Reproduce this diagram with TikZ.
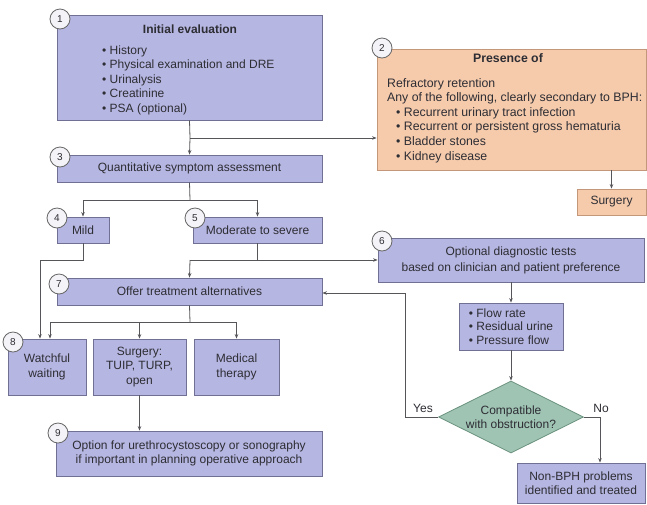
\documentclass[tikz,border=0pt]{standalone}
\usepackage{fontspec}
\setmainfont{Liberation Sans}
\usetikzlibrary{shapes.geometric,arrows.meta}
\definecolor{boxfill}{RGB}{182,182,226}
\definecolor{boxdraw}{RGB}{112,112,148}
\definecolor{orfill}{RGB}{246,203,172}
\definecolor{ordraw}{RGB}{196,150,122}
\definecolor{diafill}{RGB}{160,196,180}
\definecolor{diadraw}{RGB}{105,145,125}
\definecolor{txt}{RGB}{45,45,52}
\definecolor{lncol}{RGB}{85,85,90}
\definecolor{numfill}{RGB}{244,244,248}
\newcommand\fsz{\fontsize{12}{14.5}\selectfont}
\begin{document}
\begin{tikzpicture}[x=1pt,y=-1pt,
  bbox/.style={draw=boxdraw, fill=boxfill, line width=0.8pt, inner sep=0pt, text=txt, font=\fsz, align=center},
  obox/.style={bbox, draw=ordraw, fill=orfill},
  txtnode/.style={inner sep=0pt, text=txt, font=\fsz},
  num/.style={circle, draw=gray!80!black, fill=numfill, line width=0.8pt, minimum size=20pt, inner sep=0pt, text=txt, font=\fontsize{10}{12}\selectfont},
  conn/.style={draw=lncol, line width=0.8pt},
  arr/.style={conn, -{Stealth[length=4.5pt,width=3.5pt]}},
  dia/.style={diamond, draw=diadraw, fill=diafill, line width=0.8pt, inner sep=0pt, aspect=2, minimum width=145pt, minimum height=72pt, text=txt, font=\fsz, align=center}
]
\useasboundingbox[fill=white] (0,0) rectangle (647,504);

% boxes
\node[bbox, minimum width=265pt, minimum height=105pt] (b1) at (189.5,67.5) {};
\node[txtnode, font=\fsz\bfseries] (b1t) at (190,29) {Initial evaluation};
\node[txtnode, align=left, anchor=north west] (b1l) at (102,45.5) {• History\\• Physical examination and DRE\\• Urinalysis\\• Creatinine\\• PSA (optional)};

\node[obox, minimum width=269pt, minimum height=121pt] (b2) at (511.5,109.5) {};
\node[txtnode, font=\fontsize{12.3}{14.6}\selectfont\bfseries] (b2t) at (508,58) {Presence of};
\node[txtnode, align=left, anchor=north west, font=\fontsize{12.3}{14.6}\selectfont] (b2l) at (387,78) {Refractory retention\\Any of the following, clearly secondary to BPH:\\\hspace{9pt}• Recurrent urinary tract infection\\\hspace{9pt}• Recurrent or persistent gross hematuria\\\hspace{9pt}• Bladder stones\\\hspace{9pt}• Kidney disease};

\node[obox, minimum width=69pt, minimum height=26pt] (sg) at (611.5,202) {Surgery};

\node[bbox, minimum width=265pt, minimum height=27pt] (b3) at (189.5,168.5) {Quantitative symptom assessment};
\node[bbox, minimum width=52pt, minimum height=26pt] (b4) at (83,230) {Mild};
\node[bbox, minimum width=129pt, minimum height=26pt] (b5) at (257.5,230) {Moderate to severe};
\node[bbox, minimum width=266pt, minimum height=44pt, font=\fontsize{12}{16}\selectfont] (b6) at (511,260) {Optional diagnostic tests\\based on clinician and patient preference};
\node[bbox, minimum width=265pt, minimum height=27pt] (b7) at (189.5,291.5) {Offer treatment alternatives};
\node[bbox, minimum width=78pt, minimum height=56pt] (b8) at (47,367) {Watchful\\waiting};
\node[bbox, minimum width=93pt, minimum height=56pt] (bs) at (139.5,367) {Surgery:\\TUIP, TURP,\\open};
\node[bbox, minimum width=85pt, minimum height=56pt] (bm) at (236.5,367) {Medical\\therapy};
\node[bbox, minimum width=266pt, minimum height=45pt, font=\fontsize{12}{14}\selectfont] (b9) at (189,453.5) {Option for urethrocystoscopy or sonography\\if important in planning operative approach};
\node[bbox, minimum width=104pt, minimum height=47pt, align=left, font=\fontsize{12}{13.5}\selectfont] (fl) at (511,326.5) {• Flow rate\\• Residual urine\\• Pressure flow};
\node[dia] (dd) at (511,417) {Compatible\\with obstruction?};
\node[bbox, minimum width=128pt, minimum height=40pt] (nb) at (581,483) {Non-BPH problems\\identified and treated};

% numbers
\node[num] (n1) at (60,19) {1};
\node[num] (n2) at (382,48) {2};
\node[num] (n3) at (60,157) {3};
\node[num] (n4) at (57,218) {4};
\node[num] (n5) at (195,218) {5};
\node[num] (n6) at (382,241) {6};
\node[num] (n7) at (59,284) {7};
\node[num] (n8) at (13,342) {8};
\node[num] (n9) at (58,433) {9};

% connectors
\coordinate (j1) at (190,138);
\draw[conn] (b1.south) -- (j1);
\draw[arr] (j1) -- (j1 -| b2.west);
\draw[arr] (j1) -- (b3.north);
\draw[arr] (b2.south -| sg.north) -- (sg.north);

\coordinate (j3) at (190,200);
\draw[conn] (b3.south) -- (j3);
\draw[arr] (j3) -| (b4.north);
\draw[arr] (j3) -| (b5.north);

\coordinate (j4) at (40,260);
\draw[arr] (b4.south) |- (j4) -- (j4 |- b8.north);

\coordinate (j5) at (190,260);
\draw[conn] (b5.south) -- (b5.south |- j5) -- (j5);
\draw[arr] (j5) -- (j5 -| b6.west);
\draw[arr] (j5) -- (b7.north);

\coordinate (j7) at (190,322);
\coordinate (j8) at (50,322);
\draw[conn] (b7.south) -- (j7);
\draw[arr] (j7) -- (j8) -- (j8 |- b8.north);
\draw[arr] (j7) -| (bs.north);
\draw[arr] (j7) -| (bm.north);
\draw[arr] (bs.south) -- (bs.south |- b9.north);

\draw[arr] (b6.south) -- (fl.north);
\draw[arr] (fl.south) -- (dd.north);

\coordinate (jy) at (405,293);
\draw[arr] (dd.west) -| (jy) -- (jy -| b7.east);
\coordinate (jn) at (600,417);
\draw[arr] (dd.east) -- (jn) -- (jn |- nb.north);

\node[txtnode] (yes) at (423,408) {Yes};
\node[txtnode] (no) at (601,408) {No};
\end{tikzpicture}
\end{document}
